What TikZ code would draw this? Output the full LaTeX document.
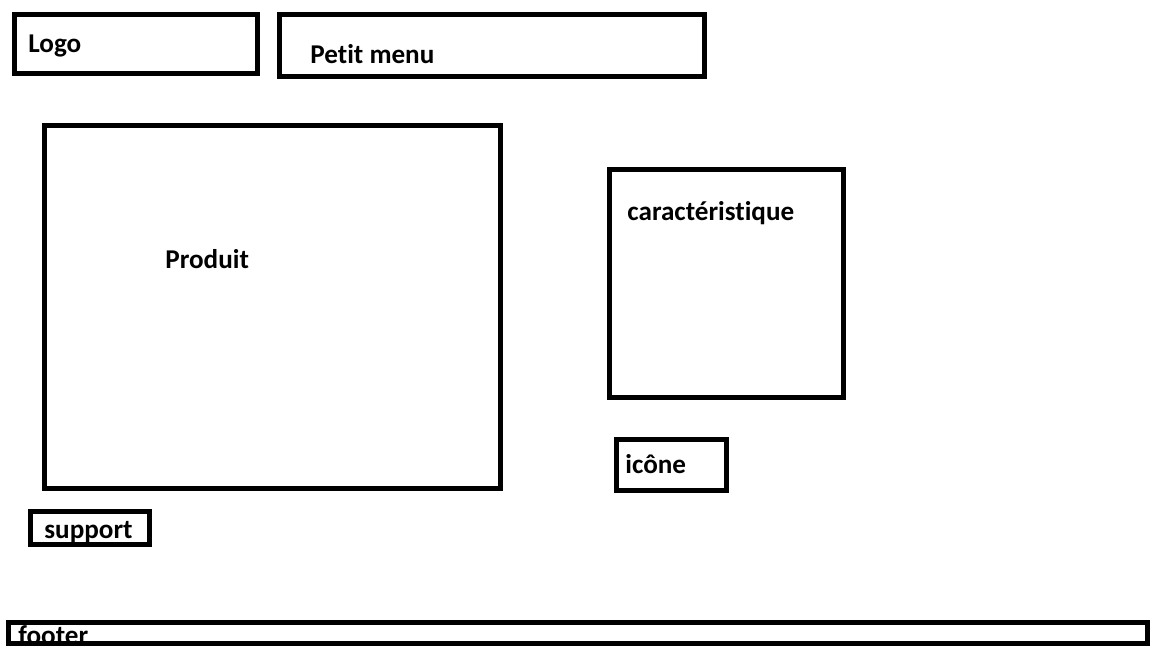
\documentclass[tikz,border=0pt]{standalone}
\usepackage{fontspec}
\setmainfont[Ligatures={NoCommon}]{Carlito}
\usepackage{tikz}

\begin{document}
\begin{tikzpicture}[x=0.025cm, y=-0.025cm, line width=3.4pt, line join=miter]
\tikzstyle{zone}=[draw=black, fill=none]
\tikzstyle{label}=[anchor=base west, inner sep=0pt, text=black, font=\fontsize{19.3}{21}\selectfont\bfseries]

\useasboundingbox (0,0) rectangle (1152,648);

% cadres
\draw[zone] (14.5,14.5) rectangle (257.5,73.5);
\draw[zone] (279.5,14.5) rectangle (704.5,76.5);
\draw[zone] (44.5,125.5) rectangle (500.5,488.5);
\draw[zone] (609.5,169.5) rectangle (843.5,397.5);
\draw[zone] (616.5,439.5) rectangle (726.5,490.5);
\draw[zone] (30.5,511.5) rectangle (149.5,544.5);
\draw[zone] (8.5,622.5) rectangle (1147.5,643.5);

% textes
\node[label] (logo)    at (26,53)   {Logo};
\node[label] (menu)    at (308,64)  {Petit menu};
\node[label] (produit) at (163,269) {Produit};
\node[label] (carac)   at (625,221) {caractéristique};
\node[label] (icone)   at (623,474) {icône};
\node[label] (support) at (42,538)  {support};
\node[label] (footer)  at (16,644)  {footer};

\end{tikzpicture}
\end{document}
